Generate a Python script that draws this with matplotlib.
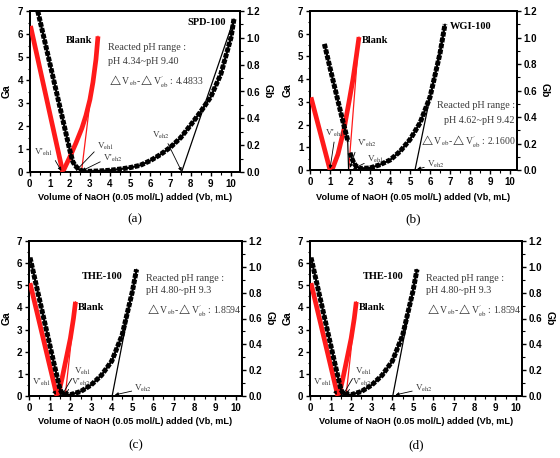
import matplotlib
matplotlib.use('Agg')
import matplotlib.pyplot as plt
from matplotlib.ticker import MultipleLocator

plt.rcParams['mathtext.fontset'] = 'stix'

SANS = 'Liberation Sans'
SERIF = 'Liberation Serif'
TXT = '#3a3a3a'
RED = '#ff1a1a'

# ---------------- data ----------------
# panel (a) SPD-100
a_ga_x = [0.41, 0.8, 1.2, 1.6, 2.0, 2.15, 2.25, 2.35, 2.45, 2.55, 2.65]
a_ga = [7.0, 5.52, 4.0, 2.48, 0.95, 0.45, 0.3, 0.2, 0.12, 0.07, 0.04]
a_gb_x = [2.6, 3.0, 3.5, 4.0, 4.5, 5.0, 5.5, 6.0, 6.5, 7.0, 7.5, 8.0, 8.5, 9.0, 9.5, 10.0, 10.15]
a_gb = [0.005, 0.005, 0.008, 0.013, 0.022, 0.033, 0.05, 0.085, 0.13, 0.185, 0.255, 0.35, 0.45, 0.56, 0.73, 1.0, 1.14]
a_tan_x = [7.55, 10.15]
a_tan = [0.0, 1.14]
a_blank_ga_x = [0.05, 1.65]
a_blank_ga = [6.35, 0.0]
a_blank_gb_x = [1.65, 2.0, 2.3, 2.6, 2.8, 3.0, 3.15, 3.3, 3.4]
a_blank_gb = [0.0, 0.111, 0.214, 0.326, 0.42, 0.54, 0.669, 0.84, 1.011]
a_blank_tan_x = [2.58, 3.4]
a_blank_tan = [0.0, 1.011]

# panel (b) WGI-100
b_ga_x = [0.72, 1.0, 1.3, 1.6, 1.9]
b_ga = [5.55, 4.5, 3.4, 2.3, 1.25]
b_vline_x = [1.93, 1.88]
b_vline = [0.0, 1.4]
b_gb_x = [2.0, 2.1, 2.2, 2.3, 2.5, 3.0, 3.5, 4.0, 4.5, 5.0, 5.5, 6.0, 6.5, 6.75]
b_gb = [0.13, 0.085, 0.05, 0.03, 0.012, 0.015, 0.04, 0.075, 0.14, 0.23, 0.355, 0.55, 0.88, 1.1]
b_tan_x = [5.25, 6.75]
b_tan = [0.0, 1.1]
b_blank_ga_x = [0.05, 1.0]
b_blank_ga = [3.2, 0.0]
b_blank_gb_x = [1.1, 1.4, 1.7, 1.95, 2.15, 2.3, 2.45]
b_blank_gb = [0.0, 0.12, 0.309, 0.514, 0.686, 0.84, 1.003]
b_blank_tan_x = [1.93, 2.45]
b_blank_tan = [0.0, 1.003]

# panels (c) and (d) THE-100
c_ga_x = [0.05, 0.4, 0.8, 1.2, 1.5, 1.6, 1.7]
c_ga = [6.25, 4.8, 3.15, 1.5, 0.3, 0.12, 0.05]
c_gb_x = [1.7, 2.0, 2.5, 3.0, 3.5, 4.0, 4.5, 5.0, 5.2]
c_gb = [0.005, 0.01, 0.035, 0.085, 0.16, 0.27, 0.47, 0.81, 0.98]
c_tan_x = [4.02, 5.2]
c_tan = [0.0, 0.98]
c_blank_ga_x = [0.05, 1.35]
c_blank_ga = [5.1, 0.0]
c_blank_gb_x = [1.4, 1.6, 1.8, 2.0, 2.15, 2.25]
c_blank_gb = [0.0, 0.137, 0.291, 0.446, 0.6, 0.729]
c_blank_tan_x = [1.75, 2.25]
c_blank_tan = [0.0, 0.729]

x_ticks = list(range(0, 11))
ga_ticks = list(range(0, 8))
gb_ticks = [0.0, 0.2, 0.4, 0.6, 0.8, 1.0, 1.2]
captions = ['(a)', '(b)', '(c)', '(d)']
samples = ['SPD-100', 'WGI-100', 'THE-100', 'THE-100']
ph_texts = ['pH 4.34~pH 9.40', 'pH 4.62~pH 9.42', 'pH 4.80~pH 9.3', 'pH 4.80~pH 9.3']
delta_vals = ['4.4833', '2.1600', '1.8594', '1.8594']

W, H = 560, 458
fig = plt.figure(figsize=(W / 100, H / 100), dpi=100)


def rect(l, r, t, b):
    return [l / W, (H - b) / H, (r - l) / W, (b - t) / H]


def black_series(ax, x, y):
    ax.plot(x, y, color='k', lw=1.6, solid_capstyle='butt', zorder=4)
    ax.plot(x, y, color='k', lw=3.6, dashes=(0.9, 0.28), dash_capstyle='butt', zorder=4)


def red_series(ax, x, y):
    ax.plot(x, y, color=RED, lw=3.4, solid_capstyle='butt', solid_joinstyle='round', zorder=3)


def vlabel(ax, s, xy, xyt, rel=(1, 0.2)):
    ax.annotate(s, xy=xy, xytext=xyt, fontsize=6.6, family=SERIF, color=TXT,
                va='center', ha='left', zorder=6,
                arrowprops=dict(arrowstyle='-|>', color='k', lw=0.6,
                                mutation_scale=5, shrinkA=0, shrinkB=0,
                                relpos=rel))


def setup(pos, xmax, cap_y, xl_y):
    ax = fig.add_axes(pos)
    ax.set_xlim(0, xmax)
    ax.set_ylim(0, 7)
    ax2 = ax.twinx()
    ax2.set_ylim(0, 1.2)
    ax.set_xticks(x_ticks)
    ax.set_yticks(ga_ticks)
    ax2.set_yticks(gb_ticks)
    ax2.set_yticklabels([f'{v:.1f}' for v in gb_ticks])
    ax.xaxis.set_minor_locator(MultipleLocator(0.5))
    ax.yaxis.set_minor_locator(MultipleLocator(0.5))
    ax2.yaxis.set_minor_locator(MultipleLocator(0.1))
    for a in (ax, ax2):
        a.tick_params(which='major', direction='out', length=3.2, width=1.0,
                      labelsize=7, pad=1.5)
        a.tick_params(which='minor', direction='out', length=1.8, width=0.8)
        for sp in a.spines.values():
            sp.set_linewidth(1.4)
        for lab in a.get_xticklabels() + a.get_yticklabels():
            lab.set_fontfamily(SANS)
            lab.set_fontweight('bold')
    ax.set_ylabel('Ga', fontsize=7.5, fontweight='bold', family=SANS, labelpad=4)
    ax2.set_ylabel('Gb', fontsize=7.5, fontweight='bold', family=SANS,
                   rotation=270, labelpad=9)
    p = ax.get_position()
    cx = (p.x0 + p.x1) / 2
    fig.text(cx, (H - xl_y) / H, 'Volume of NaOH (0.05 mol/L) added (Vb, mL)',
             ha='center', va='center', fontsize=6.6, fontweight='bold', family=SANS)
    fig.text(cx, (H - cap_y) / H, cap, ha='center', va='center',
             fontsize=9.5, family=SERIF)
    ax.set_zorder(ax2.get_zorder() + 1)
    ax.patch.set_visible(False)
    return ax, ax2


def dtext(v):
    return r'$\triangle$V$_{\rm eb}$-$\triangle$V$^{\prime}_{\rm eb}$ : ' + v


DFS = 7.0

# ---------------- panel (a) ----------------
cap = captions[0]
ax, ax2 = setup(rect(29.5, 240, 11, 172), 10.45, 219, 198)
red_series(ax, a_blank_ga_x, a_blank_ga)
red_series(ax2, a_blank_gb_x, a_blank_gb)
ax2.plot(a_blank_tan_x, a_blank_tan, color=RED, lw=0.9, zorder=3)
black_series(ax, a_ga_x, a_ga)
black_series(ax2, a_gb_x, a_gb)
ax2.plot(a_tan_x, a_tan, color='k', lw=0.9, zorder=4)
ax.text(1.8, 5.7, 'Blank', fontsize=7.5, fontweight='bold', family=SERIF, va='center')
ax.text(9.75, 6.5, samples[0], fontsize=7.5, fontweight='bold', family=SERIF,
        va='center', ha='right')
ax.text(3.9, 5.4, 'Reacted pH range :', fontsize=7.3, family=SERIF, color=TXT, va='center')
ax.text(3.9, 4.8, ph_texts[0], fontsize=7.3, family=SERIF, color=TXT, va='center')
ax.text(3.9, 3.95, dtext(delta_vals[0]), fontsize=DFS, family=SERIF, color=TXT, va='center')
vlabel(ax, r"V'$_{\rm eh1}$", (1.58, 0.05), (0.2, 0.85))
vlabel(ax, r"V$_{\rm eh1}$", (2.3, 0.05), (3.35, 1.1), rel=(0, 0.3))
vlabel(ax, r"V'$_{\rm eh2}$", (2.6, 0.05), (3.65, 0.6), rel=(0, 0.3))
vlabel(ax, r"V$_{\rm eh2}$", (7.55, 0.03), (6.1, 1.6), rel=(0.8, 0))

# ---------------- panel (b) ----------------
cap = captions[1]
ax, ax2 = setup(rect(310, 517, 11, 170), 10.35, 219, 198)
red_series(ax, b_blank_ga_x, b_blank_ga)
red_series(ax2, b_blank_gb_x, b_blank_gb)
ax2.plot(b_blank_tan_x, b_blank_tan, color=RED, lw=0.9, zorder=3)
black_series(ax, b_ga_x, b_ga)
ax.plot(b_vline_x, b_vline, color='k', lw=0.9, zorder=4)
black_series(ax2, b_gb_x, b_gb)
ax2.plot(b_tan_x, b_tan, color='k', lw=0.9, zorder=4)
ax.text(2.6, 5.7, 'Blank', fontsize=7.5, fontweight='bold', family=SERIF, va='center')
ax.text(7.0, 6.3, samples[1], fontsize=7.5, fontweight='bold', family=SERIF, va='center')
ax.text(10.25, 2.86, 'Reacted pH range :', fontsize=7.3, family=SERIF, color=TXT,
        va='center', ha='right')
ax.text(10.25, 2.2, ph_texts[1], fontsize=7.3, family=SERIF, color=TXT, va='center', ha='right')
ax.text(10.3, 1.28, dtext(delta_vals[1]), fontsize=DFS, family=SERIF, color=TXT,
        va='center', ha='right')
vlabel(ax, r"V'$_{\rm eh1}$", (1.0, 0.05), (0.75, 1.6), rel=(0.5, 0))
vlabel(ax, r"V'$_{\rm eh2}$", (2.0, 0.1), (2.35, 1.15), rel=(0, 0.3))
vlabel(ax, r"V$_{\rm eh1}$", (2.15, 0.05), (2.85, 0.45), rel=(0, 0.3))
vlabel(ax, r"V$_{\rm eh2}$", (5.35, 0.03), (5.85, 0.25), rel=(0, 0.3))

# ---------------- panels (c) and (d) ----------------
for i, (l, r) in enumerate([(29, 242), (310, 522)]):
    cap = captions[2 + i]
    ax, ax2 = setup(rect(l, r, 241, 396), 10.3, 445, 422)
    red_series(ax, c_blank_ga_x, c_blank_ga)
    red_series(ax2, c_blank_gb_x, c_blank_gb)
    ax2.plot(c_blank_tan_x, c_blank_tan, color=RED, lw=0.9, zorder=3)
    black_series(ax, c_ga_x, c_ga)
    black_series(ax2, c_gb_x, c_gb)
    ax2.plot(c_tan_x, c_tan, color='k', lw=0.9, zorder=4)
    ax.text(2.55, 5.4, samples[2 + i], fontsize=7.5, fontweight='bold', family=SERIF,
            va='center')
    ax.text(2.37, 4.0, 'Blank', fontsize=7.5, fontweight='bold', family=SERIF, va='center')
    ax.text(5.65, 5.3, 'Reacted pH range :', fontsize=7.3, family=SERIF, color=TXT, va='center')
    ax.text(5.65, 4.75, ph_texts[2 + i], fontsize=7.3, family=SERIF, color=TXT, va='center')
    ax.text(5.65, 3.9, dtext(delta_vals[2 + i]), fontsize=DFS, family=SERIF, color=TXT,
            va='center')
    vlabel(ax, r"V'$_{\rm eh1}$", (1.3, 0.05), (0.15, 0.6))
    vlabel(ax, r"V$_{\rm eh1}$", (1.6, 0.05), (2.2, 1.1), rel=(0, 0.3))
    vlabel(ax, r"V'$_{\rm eh2}$", (1.75, 0.05), (2.05, 0.6), rel=(0, 0.3))
    vlabel(ax, r"V$_{\rm eh2}$", (4.15, 0.05), (5.1, 0.35), rel=(0, 0.3))

fig.savefig('out.png', dpi=100)
